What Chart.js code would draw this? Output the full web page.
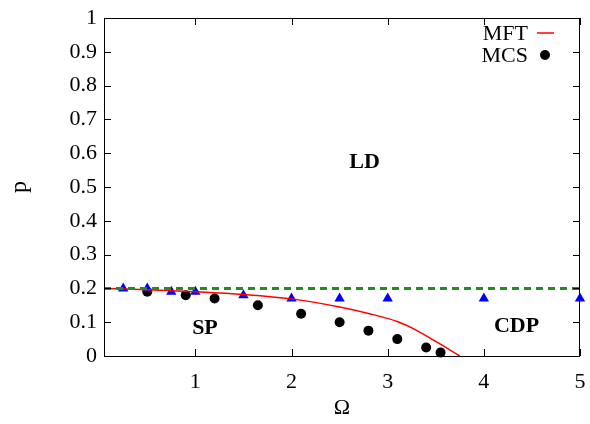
<!DOCTYPE html>
<html lang="en">
<head>
<meta charset="UTF-8">
<title>Phase diagram p vs Omega</title>
<script src="https://cdn.jsdelivr.net/npm/chart.js"></script>
<style>
    body { margin: 0; background: #fff; }
    canvas { display: block; }
</style>
</head>
<body>
<canvas id="chart" width="590" height="424"></canvas>
<script>
// MFT curve (red line)
const mftOmega = [0.05, 0.5, 1, 1.5, 2, 2.5, 2.8, 3.1, 3.3, 3.5, 3.75];
const mftP = [0.2, 0.196, 0.19, 0.182, 0.169, 0.145, 0.126, 0.102, 0.076, 0.043, 0];
// MCS points (black circles)
const mcsOmega = [0.5, 0.9, 1.2, 1.65, 2.1, 2.5, 2.8, 3.1, 3.4, 3.55];
const mcsP = [0.19, 0.18, 0.17, 0.15, 0.125, 0.1, 0.075, 0.05, 0.025, 0.01];
// blue triangles
const triOmega = [0.25, 0.5, 0.75, 1, 1.5, 2, 2.5, 3, 4, 5];
const triP = [0.2, 0.2, 0.19, 0.19, 0.18, 0.17, 0.17, 0.17, 0.17, 0.17];
// green dashed boundary
const lineOmega = [0.05, 5];
const lineP = [0.2, 0.2];

const xTicks = [1, 2, 3, 4, 5];
const yTicks = [0, 0.1, 0.2, 0.3, 0.4, 0.5, 0.6, 0.7, 0.8, 0.9, 1];

const regionNames = ['LD', 'SP', 'CDP'];
const regionOmega = [2.76, 1.1, 4.34];
const regionP = [0.574, 0.083, 0.089];

const serif = '"Liberation Serif", "DejaVu Serif", serif';

function pairs(xs, ys) {
    return xs.map((x, i) => ({x: x, y: ys[i]}));
}

// frame, inward ticks on all sides, region labels and gnuplot-style key
const framePlugin = {
    id: 'frame',
    afterDatasetsDraw(chart) {
        const ctx = chart.ctx;
        const a = chart.chartArea;
        const xs = chart.scales.x, ys = chart.scales.y;
        ctx.save();
        ctx.strokeStyle = '#000';
        ctx.lineWidth = 1;
        ctx.strokeRect(a.left + 0.5, a.top + 0.5, a.right - a.left - 1, a.bottom - a.top);
        ctx.beginPath();
        xTicks.forEach(v => {
            const px = Math.round(xs.getPixelForValue(v)) + 0.5;
            ctx.moveTo(px, a.bottom); ctx.lineTo(px, a.bottom - 7);
            ctx.moveTo(px, a.top); ctx.lineTo(px, a.top + 7);
        });
        yTicks.forEach(v => {
            const py = Math.round(ys.getPixelForValue(v)) + 0.5;
            ctx.moveTo(a.left, py); ctx.lineTo(a.left + 7, py);
            ctx.moveTo(a.right, py); ctx.lineTo(a.right - 7, py);
        });
        ctx.stroke();

        ctx.fillStyle = '#000';
        ctx.font = 'bold 22px ' + serif;
        ctx.textAlign = 'center';
        ctx.textBaseline = 'middle';
        regionNames.forEach((t, i) => {
            ctx.fillText(t, xs.getPixelForValue(regionOmega[i]), ys.getPixelForValue(regionP[i]));
        });

        // key
        ctx.font = '22px ' + serif;
        ctx.textAlign = 'right';
        const kx = a.right - 52, ky = a.top + 15;
        ctx.fillText('MFT', kx, ky + 1);
        ctx.fillText('MCS', kx, ky + 23);
        ctx.strokeStyle = '#ff0000';
        ctx.lineWidth = 1.5;
        ctx.beginPath();
        ctx.moveTo(kx + 9, ky); ctx.lineTo(kx + 26, ky);
        ctx.stroke();
        ctx.beginPath();
        ctx.arc(kx + 17, ky + 22, 5, 0, Math.PI * 2);
        ctx.fill();
        ctx.restore();
    }
};

new Chart(document.getElementById('chart'), {
    type: 'scatter',
    data: {
        datasets: [{
            label: 'boundary',
            type: 'line',
            data: pairs(lineOmega, lineP),
            borderColor: 'rgb(34, 139, 34)',
            borderWidth: 3,
            borderDash: [7, 5],
            pointRadius: 0,
            fill: false
        }, {
            label: 'MFT',
            type: 'line',
            data: pairs(mftOmega, mftP),
            borderColor: '#ff0000',
            borderWidth: 1.5,
            pointRadius: 0,
            cubicInterpolationMode: 'monotone',
            fill: false
        }, {
            label: 'triangles',
            data: pairs(triOmega, triP),
            pointStyle: 'triangle',
            pointRadius: 6,
            backgroundColor: '#0000ff',
            borderColor: '#0000ff',
            borderWidth: 0,
            clip: false
        }, {
            label: 'MCS',
            data: pairs(mcsOmega, mcsP),
            pointStyle: 'circle',
            pointRadius: 5,
            backgroundColor: '#000',
            borderColor: '#000',
            borderWidth: 0,
            clip: false
        }]
    },
    options: {
        responsive: false,
        animation: false,
        devicePixelRatio: 1,
        layout: {padding: {left: 0, right: 10, top: 18, bottom: 0}},
        plugins: {legend: {display: false}, tooltip: {enabled: false}},
        scales: {
            x: {
                type: 'linear',
                min: 0.05,
                max: 5,
                afterBuildTicks: s => { s.ticks = xTicks.map(v => ({value: v})); },
                afterFit: s => { s.height = 68; s.paddingRight = 0; s.paddingLeft = 0; },
                grid: {display: false, drawTicks: false},
                border: {display: false},
                ticks: {color: '#000', font: {family: serif, size: 22}, padding: 13, maxRotation: 0},
                title: {display: true, text: 'Ω', color: '#000', font: {family: serif, size: 22}, padding: {top: 0, bottom: 3}}
            },
            y: {
                type: 'linear',
                min: 0,
                max: 1,
                afterBuildTicks: s => { s.ticks = yTicks.map(v => ({value: v})); },
                afterFit: s => { s.width = 104; s.paddingTop = 0; s.paddingBottom = 0; },
                grid: {display: false, drawTicks: false},
                border: {display: false},
                ticks: {color: '#000', font: {family: serif, size: 22}, padding: 7,
                    callback: v => String(v)},
                title: {display: true, text: 'p', color: '#000', font: {family: serif, size: 24}, padding: {top: 5, bottom: 0}}
            }
        }
    },
    plugins: [framePlugin]
});
</script>
</body>
</html>
